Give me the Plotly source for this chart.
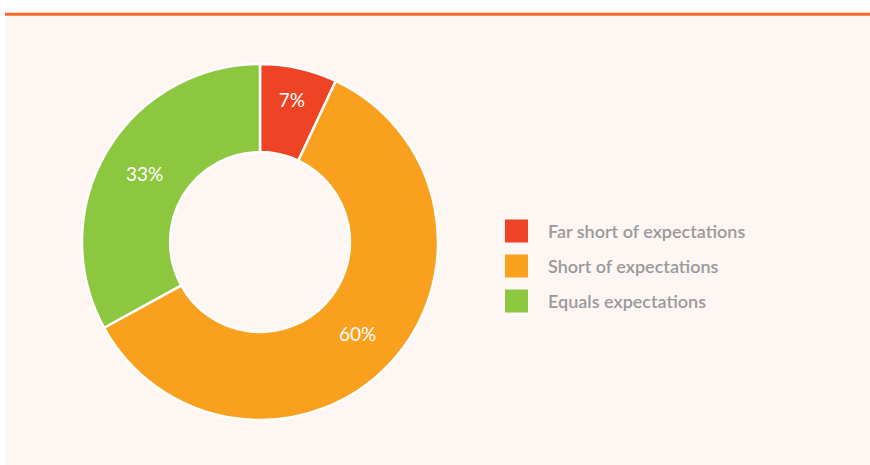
import plotly.graph_objects as go

categories = ["Far short of expectations", "Short of expectations", "Equals expectations"]
values = [7, 60, 33]
colors = ["#EE4425", "#F9A11E", "#8DC63F"]

W, H = 870, 465

fig = go.Figure()
fig.add_trace(go.Pie(
    labels=categories,
    values=values,
    hole=0.505,
    sort=False,
    direction="clockwise",
    rotation=0,
    marker=dict(colors=colors, line=dict(color="white", width=2.5)),
    textinfo="percent",
    texttemplate="%{percent:.0%}",
    textposition="inside",
    insidetextorientation="horizontal",
    textfont=dict(family="Lato", size=19, color="white", weight=400),
    showlegend=False,
    hoverinfo="label+percent",
    domain=dict(x=[82 / W, 438 / W], y=[1 - 420 / H, 1 - 64 / H]),
))

shapes = [
    dict(type="rect", xref="paper", yref="paper", x0=5 / W, x1=1, y0=0, y1=1 - 15 / H,
         fillcolor="#FEF6F3", line=dict(width=0), layer="below"),
    dict(type="line", xref="paper", yref="paper", x0=5 / W, x1=1, y0=1 - 14.3 / H, y1=1 - 14.3 / H,
         line=dict(color="#F26B2A", width=3)),
]
annotations = []
leg_x0, sq = 505, 23
for i, (c, col) in enumerate(zip(categories, colors)):
    yc = 231 + 35 * i
    shapes.append(dict(type="rect", xref="paper", yref="paper",
                       x0=leg_x0 / W, x1=(leg_x0 + sq) / W,
                       y0=1 - (yc + sq / 2) / H, y1=1 - (yc - sq / 2) / H,
                       fillcolor=col, line=dict(width=0)))
    annotations.append(dict(xref="paper", yref="paper", x=546 / W, y=1 - yc / H,
                            xanchor="left", yanchor="middle", showarrow=False, text=c,
                            font=dict(family="Lato", size=18, color="#9A9A9A", weight=600)))

fig.update_layout(
    width=W, height=H,
    margin=dict(l=0, r=0, t=0, b=0),
    paper_bgcolor="white",
    plot_bgcolor="white",
    shapes=shapes,
    annotations=annotations,
)

fig.write_html("out.html", config={"displayModeBar": False},
               post_script="document.body.style.margin='0';")
